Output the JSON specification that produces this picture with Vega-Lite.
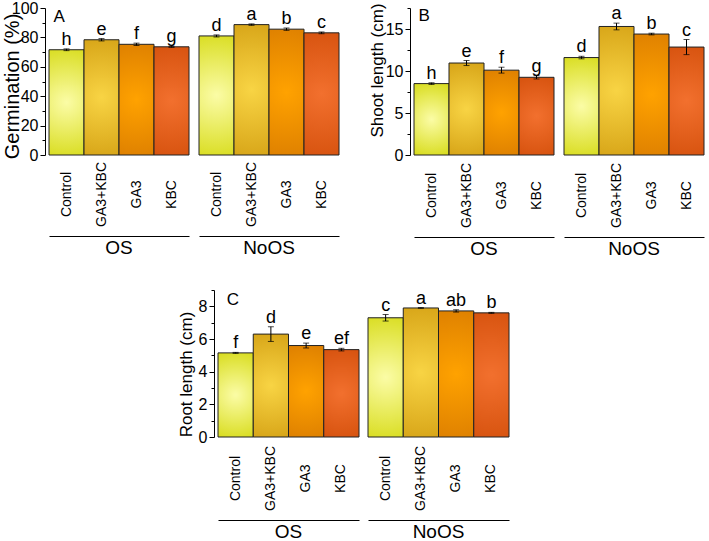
{
  "$schema": "https://vega.github.io/schema/vega-lite/v6.json",
  "padding": {"left": 2, "top": 0, "right": 0, "bottom": 0},
  "config": {
    "font": "Liberation Sans",
    "view": {"stroke": null},
    "axis": {"labelColor": "black", "titleColor": "black", "domainColor": "black", "tickColor": "black", "grid": false, "titleFontWeight": "normal"},
    "header": {"labelColor": "black"},
    "concat": {"spacing": 0}
  },
  "datasets": {
    "germ": [
      {"group": "OS", "trt": "Control", "mean": 71.6, "lo": 71.0, "hi": 72.2, "letter": "h"},
      {"group": "OS", "trt": "GA3+KBC", "mean": 78.4, "lo": 77.6, "hi": 79.2, "letter": "e"},
      {"group": "OS", "trt": "GA3", "mean": 75.3, "lo": 74.5, "hi": 76.1, "letter": "f"},
      {"group": "OS", "trt": "KBC", "mean": 73.6, "lo": 73.2, "hi": 74.0, "letter": "g"},
      {"group": "NoOS", "trt": "Control", "mean": 81.0, "lo": 80.3, "hi": 81.7, "letter": "d"},
      {"group": "NoOS", "trt": "GA3+KBC", "mean": 88.7, "lo": 88.2, "hi": 89.2, "letter": "a"},
      {"group": "NoOS", "trt": "GA3", "mean": 85.6, "lo": 84.8, "hi": 86.4, "letter": "b"},
      {"group": "NoOS", "trt": "KBC", "mean": 83.1, "lo": 82.5, "hi": 83.7, "letter": "c"}
    ],
    "shoot": [
      {"group": "OS", "trt": "Control", "mean": 8.5, "lo": 8.4, "hi": 8.6, "letter": "h"},
      {"group": "OS", "trt": "GA3+KBC", "mean": 10.95, "lo": 10.65, "hi": 11.25, "letter": "e"},
      {"group": "OS", "trt": "GA3", "mean": 10.1, "lo": 9.75, "hi": 10.45, "letter": "f"},
      {"group": "OS", "trt": "KBC", "mean": 9.25, "lo": 9.05, "hi": 9.45, "letter": "g"},
      {"group": "NoOS", "trt": "Control", "mean": 11.6, "lo": 11.45, "hi": 11.75, "letter": "d"},
      {"group": "NoOS", "trt": "GA3+KBC", "mean": 15.3, "lo": 14.9, "hi": 15.7, "letter": "a"},
      {"group": "NoOS", "trt": "GA3", "mean": 14.4, "lo": 14.3, "hi": 14.5, "letter": "b"},
      {"group": "NoOS", "trt": "KBC", "mean": 12.85, "lo": 11.95, "hi": 13.75, "letter": "c"}
    ],
    "rootlen": [
      {"group": "OS", "trt": "Control", "mean": 5.15, "lo": 5.12, "hi": 5.18, "letter": "f"},
      {"group": "OS", "trt": "GA3+KBC", "mean": 6.3, "lo": 5.85, "hi": 6.75, "letter": "d"},
      {"group": "OS", "trt": "GA3", "mean": 5.6, "lo": 5.45, "hi": 5.75, "letter": "e"},
      {"group": "OS", "trt": "KBC", "mean": 5.35, "lo": 5.27, "hi": 5.43, "letter": "ef"},
      {"group": "NoOS", "trt": "Control", "mean": 7.3, "lo": 7.1, "hi": 7.5, "letter": "c"},
      {"group": "NoOS", "trt": "GA3+KBC", "mean": 7.9, "lo": 7.88, "hi": 7.92, "letter": "a"},
      {"group": "NoOS", "trt": "GA3", "mean": 7.72, "lo": 7.65, "hi": 7.79, "letter": "ab"},
      {"group": "NoOS", "trt": "KBC", "mean": 7.6, "lo": 7.57, "hi": 7.63, "letter": "b"}
    ]
  },
  "vconcat": [
    {
      "hconcat": [
        {
          "data": {"name": "germ"},
          "facet": {"column": {"field": "group", "type": "nominal", "sort": ["OS", "NoOS"], "title": null,
            "header": {"labelOrient": "bottom", "labelFontSize": 19, "labelPadding": 3, "labelColor": "black"}}},
          "spacing": 8,
          "spec": {
            "width": 140, "height": 147,
            "encoding": {
              "x": {"field": "trt", "type": "nominal", "sort": ["Control", "GA3+KBC", "GA3", "KBC"],
                "scale": {"paddingInner": 0, "paddingOuter": 0},
                "axis": {"title": null, "offset": 80, "ticks": false, "tickSize": 0, "labelAngle": 270, "labelAlign": "center", "labelBaseline": "middle", "labelPadding": -42, "labelFontSize": 14, "domainWidth": 1}}
            },
            "resolve": {"axis": {"y": "independent"}},
            "layer": [
              {"transform": [{"filter": "datum.trt === 'Control'"}],
               "mark": {"type": "bar", "stroke": "#222", "strokeWidth": 1, "color": {"gradient": "radial", "x1": 0.5, "y1": 0.5, "r1": 0, "x2": 0.5, "y2": 0.5, "r2": 0.55, "stops": [{"offset": 0, "color": "#fbfca6"}, {"offset": 1, "color": "#d8dc1c"}]}},
               "encoding": {"y": {"field": "mean", "type": "quantitative", "scale": {"domain": [0, 100], "nice": false},
                 "axis": {"orient": "left", "title": "Germination (%)", "titleFontSize": 20, "titlePadding": -11, "titleY": 78, "offset": 3, "values": [0, 20, 40, 60, 80, 100], "labelFontSize": 16, "labelPadding": 2, "tickSize": 5}}}},
              {"transform": [{"filter": "datum.trt === 'GA3+KBC'"}],
               "mark": {"type": "bar", "stroke": "#222", "strokeWidth": 1, "color": {"gradient": "radial", "x1": 0.5, "y1": 0.5, "r1": 0, "x2": 0.5, "y2": 0.5, "r2": 0.55, "stops": [{"offset": 0, "color": "#f8d444"}, {"offset": 1, "color": "#d6a316"}]}},
               "encoding": {"y": {"field": "mean", "type": "quantitative",
                 "axis": {"orient": "left", "title": null, "labels": false, "domain": false, "offset": 3, "values": [10, 30, 50, 70, 90], "tickSize": 3}}}},
              {"transform": [{"filter": "datum.trt === 'GA3'"}],
               "mark": {"type": "bar", "stroke": "#222", "strokeWidth": 1, "color": {"gradient": "radial", "x1": 0.5, "y1": 0.5, "r1": 0, "x2": 0.5, "y2": 0.5, "r2": 0.55, "stops": [{"offset": 0, "color": "#ffa200"}, {"offset": 1, "color": "#dd7f00"}]}},
               "encoding": {"y": {"field": "mean", "type": "quantitative", "axis": null}}},
              {"transform": [{"filter": "datum.trt === 'KBC'"}],
               "mark": {"type": "bar", "stroke": "#222", "strokeWidth": 1, "color": {"gradient": "radial", "x1": 0.5, "y1": 0.5, "r1": 0, "x2": 0.5, "y2": 0.5, "r2": 0.55, "stops": [{"offset": 0, "color": "#f2702e"}, {"offset": 1, "color": "#d6520e"}]}},
               "encoding": {"y": {"field": "mean", "type": "quantitative", "axis": null}}},
              {"mark": {"type": "errorbar", "color": "black", "ticks": {"size": 6, "color": "black"}},
               "encoding": {"y": {"field": "lo", "type": "quantitative", "axis": null}, "y2": {"field": "hi"}}},
              {"mark": {"type": "text", "baseline": "alphabetic", "dy": -4, "fontSize": 18, "color": "black"},
               "encoding": {"y": {"field": "hi", "type": "quantitative", "axis": null}, "text": {"field": "letter"}}},
              {"transform": [{"filter": "datum.group === 'OS' && datum.trt === 'Control'"}],
               "mark": {"type": "text", "text": "A", "align": "left", "baseline": "top", "dx": -13, "dy": 1, "fontSize": 17, "color": "black"},
               "encoding": {"y": {"datum": 100, "axis": null}}}
            ]
          }
        },
        {"width": 28, "height": 1, "data": {"values": []}, "mark": "point"},
        {
          "data": {"name": "shoot"},
          "facet": {"column": {"field": "group", "type": "nominal", "sort": ["OS", "NoOS"], "title": null,
            "header": {"labelOrient": "bottom", "labelFontSize": 19, "labelPadding": 3, "labelColor": "black"}}},
          "spacing": 8,
          "spec": {
            "width": 140, "height": 147,
            "encoding": {
              "x": {"field": "trt", "type": "nominal", "sort": ["Control", "GA3+KBC", "GA3", "KBC"],
                "scale": {"paddingInner": 0, "paddingOuter": 0},
                "axis": {"title": null, "offset": 81, "ticks": false, "tickSize": 0, "labelAngle": 270, "labelAlign": "center", "labelBaseline": "middle", "labelPadding": -42, "labelFontSize": 14, "domainWidth": 1}}
            },
            "resolve": {"axis": {"y": "independent"}},
            "layer": [
              {"transform": [{"filter": "datum.trt === 'Control'"}],
               "mark": {"type": "bar", "stroke": "#222", "strokeWidth": 1, "color": {"gradient": "radial", "x1": 0.5, "y1": 0.5, "r1": 0, "x2": 0.5, "y2": 0.5, "r2": 0.55, "stops": [{"offset": 0, "color": "#fbfca6"}, {"offset": 1, "color": "#d8dc1c"}]}},
               "encoding": {"y": {"field": "mean", "type": "quantitative", "scale": {"domain": [0, 17.5], "nice": false},
                 "axis": {"orient": "left", "title": "Shoot length (cm)", "titleFontSize": 17, "titlePadding": -1, "titleY": 62, "offset": 3, "values": [0, 5, 10, 15], "labelFontSize": 16, "labelPadding": 2, "tickSize": 5}}}},
              {"transform": [{"filter": "datum.trt === 'GA3+KBC'"}],
               "mark": {"type": "bar", "stroke": "#222", "strokeWidth": 1, "color": {"gradient": "radial", "x1": 0.5, "y1": 0.5, "r1": 0, "x2": 0.5, "y2": 0.5, "r2": 0.55, "stops": [{"offset": 0, "color": "#f8d444"}, {"offset": 1, "color": "#d6a316"}]}},
               "encoding": {"y": {"field": "mean", "type": "quantitative",
                 "axis": {"orient": "left", "title": null, "labels": false, "domain": false, "offset": 3, "values": [2.5, 7.5, 12.5, 17.5], "tickSize": 3}}}},
              {"transform": [{"filter": "datum.trt === 'GA3'"}],
               "mark": {"type": "bar", "stroke": "#222", "strokeWidth": 1, "color": {"gradient": "radial", "x1": 0.5, "y1": 0.5, "r1": 0, "x2": 0.5, "y2": 0.5, "r2": 0.55, "stops": [{"offset": 0, "color": "#ffa200"}, {"offset": 1, "color": "#dd7f00"}]}},
               "encoding": {"y": {"field": "mean", "type": "quantitative", "axis": null}}},
              {"transform": [{"filter": "datum.trt === 'KBC'"}],
               "mark": {"type": "bar", "stroke": "#222", "strokeWidth": 1, "color": {"gradient": "radial", "x1": 0.5, "y1": 0.5, "r1": 0, "x2": 0.5, "y2": 0.5, "r2": 0.55, "stops": [{"offset": 0, "color": "#f2702e"}, {"offset": 1, "color": "#d6520e"}]}},
               "encoding": {"y": {"field": "mean", "type": "quantitative", "axis": null}}},
              {"mark": {"type": "errorbar", "color": "black", "ticks": {"size": 6, "color": "black"}},
               "encoding": {"y": {"field": "lo", "type": "quantitative", "axis": null}, "y2": {"field": "hi"}}},
              {"mark": {"type": "text", "baseline": "alphabetic", "dy": -4, "fontSize": 18, "color": "black"},
               "encoding": {"y": {"field": "hi", "type": "quantitative", "axis": null}, "text": {"field": "letter"}}},
              {"transform": [{"filter": "datum.group === 'OS' && datum.trt === 'Control'"}],
               "mark": {"type": "text", "text": "B", "align": "left", "baseline": "top", "dx": -13, "dy": 0, "fontSize": 17, "color": "black"},
               "encoding": {"y": {"datum": 17.5, "axis": null}}}
            ]
          }
        }
      ]
    },
    {"height": 30, "width": 1, "data": {"values": []}, "mark": "point"},
    {
      "hconcat": [
        {"width": 128, "height": 1, "data": {"values": []}, "mark": "point"},
        {
          "data": {"name": "rootlen"},
          "facet": {"column": {"field": "group", "type": "nominal", "sort": ["OS", "NoOS"], "title": null,
            "header": {"labelOrient": "bottom", "labelFontSize": 19, "labelPadding": 3, "labelColor": "black"}}},
          "spacing": 7,
          "spec": {
            "width": 141, "height": 147,
            "encoding": {
              "x": {"field": "trt", "type": "nominal", "sort": ["Control", "GA3+KBC", "GA3", "KBC"],
                "scale": {"paddingInner": 0, "paddingOuter": 0},
                "axis": {"title": null, "offset": 82, "ticks": false, "tickSize": 0, "labelAngle": 270, "labelAlign": "center", "labelBaseline": "middle", "labelPadding": -42, "labelFontSize": 14, "domainWidth": 1}}
            },
            "resolve": {"axis": {"y": "independent"}},
            "layer": [
              {"transform": [{"filter": "datum.trt === 'Control'"}],
               "mark": {"type": "bar", "stroke": "#222", "strokeWidth": 1, "color": {"gradient": "radial", "x1": 0.5, "y1": 0.5, "r1": 0, "x2": 0.5, "y2": 0.5, "r2": 0.55, "stops": [{"offset": 0, "color": "#fbfca6"}, {"offset": 1, "color": "#d8dc1c"}]}},
               "encoding": {"y": {"field": "mean", "type": "quantitative", "scale": {"domain": [0, 9], "nice": false},
                 "axis": {"orient": "left", "title": "Root length (cm)", "titleFontSize": 17, "titlePadding": 3, "titleY": 84, "offset": 3, "values": [0, 2, 4, 6, 8], "labelFontSize": 16, "labelPadding": 2, "tickSize": 5}}}},
              {"transform": [{"filter": "datum.trt === 'GA3+KBC'"}],
               "mark": {"type": "bar", "stroke": "#222", "strokeWidth": 1, "color": {"gradient": "radial", "x1": 0.5, "y1": 0.5, "r1": 0, "x2": 0.5, "y2": 0.5, "r2": 0.55, "stops": [{"offset": 0, "color": "#f8d444"}, {"offset": 1, "color": "#d6a316"}]}},
               "encoding": {"y": {"field": "mean", "type": "quantitative",
                 "axis": {"orient": "left", "title": null, "labels": false, "domain": false, "offset": 3, "values": [1, 3, 5, 7, 9], "tickSize": 3}}}},
              {"transform": [{"filter": "datum.trt === 'GA3'"}],
               "mark": {"type": "bar", "stroke": "#222", "strokeWidth": 1, "color": {"gradient": "radial", "x1": 0.5, "y1": 0.5, "r1": 0, "x2": 0.5, "y2": 0.5, "r2": 0.55, "stops": [{"offset": 0, "color": "#ffa200"}, {"offset": 1, "color": "#dd7f00"}]}},
               "encoding": {"y": {"field": "mean", "type": "quantitative", "axis": null}}},
              {"transform": [{"filter": "datum.trt === 'KBC'"}],
               "mark": {"type": "bar", "stroke": "#222", "strokeWidth": 1, "color": {"gradient": "radial", "x1": 0.5, "y1": 0.5, "r1": 0, "x2": 0.5, "y2": 0.5, "r2": 0.55, "stops": [{"offset": 0, "color": "#f2702e"}, {"offset": 1, "color": "#d6520e"}]}},
               "encoding": {"y": {"field": "mean", "type": "quantitative", "axis": null}}},
              {"mark": {"type": "errorbar", "color": "black", "ticks": {"size": 6, "color": "black"}},
               "encoding": {"y": {"field": "lo", "type": "quantitative", "axis": null}, "y2": {"field": "hi"}}},
              {"mark": {"type": "text", "baseline": "alphabetic", "dy": -4, "fontSize": 18, "color": "black"},
               "encoding": {"y": {"field": "hi", "type": "quantitative", "axis": null}, "text": {"field": "letter"}}},
              {"transform": [{"filter": "datum.group === 'OS' && datum.trt === 'Control'"}],
               "mark": {"type": "text", "text": "C", "align": "left", "baseline": "top", "dx": -9, "dy": 2, "fontSize": 17, "color": "black"},
               "encoding": {"y": {"datum": 9, "axis": null}}}
            ]
          }
        }
      ]
    }
  ]
}
